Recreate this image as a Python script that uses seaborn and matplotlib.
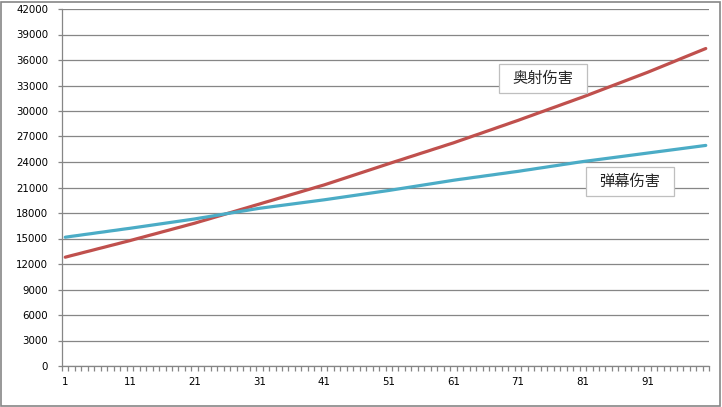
import matplotlib
matplotlib.use("Agg")
import matplotlib.pyplot as plt
from matplotlib.patches import Rectangle
import numpy as np
import pandas as pd
import seaborn as sns

levels = list(range(1, 101))
ao_she = [12800, 13000, 13190, 13390, 13580, 13780, 13970, 14170, 14360, 14560,
          14750, 14960, 15160, 15370, 15570, 15780, 15980, 16190, 16390, 16600,
          16800, 17030, 17250, 17480, 17700, 17930, 18150, 18380, 18600, 18830,
          19050, 19280, 19500, 19730, 19950, 20180, 20400, 20630, 20850, 21080,
          21300, 21550, 21800, 22050, 22300, 22550, 22800, 23050, 23300, 23550,
          23800, 24050, 24290, 24540, 24780, 25030, 25270, 25520, 25760, 26010,
          26250, 26520, 26780, 27050, 27310, 27580, 27840, 28110, 28370, 28640,
          28900, 29180, 29450, 29730, 30000, 30280, 30550, 30830, 31100, 31380,
          31650, 31940, 32230, 32520, 32810, 33100, 33390, 33680, 33970, 34260,
          34550, 34860, 35170, 35480, 35790, 36110, 36420, 36730, 37040, 37350]
dan_mu = [15150, 15260, 15360, 15470, 15570, 15680, 15780, 15890, 15990, 16100,
          16200, 16310, 16420, 16530, 16640, 16750, 16860, 16970, 17080, 17190,
          17300, 17430, 17550, 17680, 17800, 17930, 18050, 18180, 18300, 18430,
          18550, 18650, 18750, 18850, 18950, 19050, 19150, 19250, 19350, 19450,
          19550, 19660, 19770, 19880, 19990, 20100, 20210, 20320, 20430, 20540,
          20650, 20770, 20890, 21010, 21130, 21250, 21370, 21490, 21610, 21730,
          21850, 21960, 22060, 22170, 22270, 22380, 22480, 22590, 22690, 22800,
          22900, 23020, 23130, 23250, 23360, 23480, 23590, 23710, 23820, 23940,
          24050, 24150, 24250, 24350, 24450, 24550, 24650, 24750, 24850, 24950,
          25050, 25150, 25250, 25350, 25450, 25550, 25650, 25750, 25850, 25950]
series_names = ["奥射伤害", "弹幕伤害"]
colors = ["#C0504D", "#4BACC6"]

df = pd.DataFrame({"level": levels, series_names[0]: ao_she, series_names[1]: dan_mu})
df_long = df.melt(id_vars="level", var_name="series", value_name="damage")

sns.set_style("white")
plt.rcParams["font.family"] = ["DejaVu Sans", "Noto Sans CJK SC"]

W, H = 722, 407
fig = plt.figure(figsize=(W / 100, H / 100), dpi=100)
ax = fig.add_axes([62 / W, 41 / H, 647 / W, 357 / H])

sns.lineplot(data=df_long, x="level", y="damage", hue="series",
             palette=dict(zip(series_names, colors)), linewidth=2.3,
             legend=False, ax=ax, zorder=3)

grey = "#868686"
ax.set_xlim(0.5, 100.5)
ax.set_ylim(0, 42000)
ax.set_yticks(range(0, 42001, 3000))
ax.set_xticks(levels[::10])
ax.set_xticks(np.arange(0.5, 101, 1), minor=True)
ax.yaxis.grid(True, color=grey, linewidth=0.9)
ax.xaxis.grid(False)
ax.set_xlabel("")
ax.set_ylabel("")
for s in ["top", "right"]:
    ax.spines[s].set_visible(False)
for s in ["left", "bottom"]:
    ax.spines[s].set_color(grey)
    ax.spines[s].set_linewidth(0.9)
ax.tick_params(axis="y", left=True, length=3, color=grey, width=0.9, pad=7,
               labelsize=7.4, labelcolor="black", direction="out")
ax.tick_params(axis="x", which="major", bottom=True, length=0, pad=8,
               labelsize=7.4, labelcolor="black")
ax.tick_params(axis="x", which="minor", bottom=True, length=3.5, color=grey,
               width=0.9, direction="out")

# label boxes
boxes = [(499, 64, 88, 29, series_names[0]), (586, 167, 88, 29, series_names[1])]
for bx, by, bw, bh, txt in boxes:
    fig.patches.append(Rectangle((bx / W, 1 - (by + bh) / H), bw / W, bh / H,
                                 transform=fig.transFigure, facecolor="white",
                                 edgecolor="#BFBFBF", linewidth=0.9, zorder=5))
    fig.text((bx + bw / 2) / W, 1 - (by + bh / 2) / H, txt, ha="center", va="center",
             fontsize=11, family=["Noto Sans CJK SC"], zorder=6)

# outer chart border
fig.patches.append(Rectangle((1 / W, 1 / H), (W - 3) / W, (H - 3) / H,
                             transform=fig.transFigure, fill=False,
                             edgecolor=grey, linewidth=1.2, zorder=0))

fig.savefig("out.png", dpi=100)
